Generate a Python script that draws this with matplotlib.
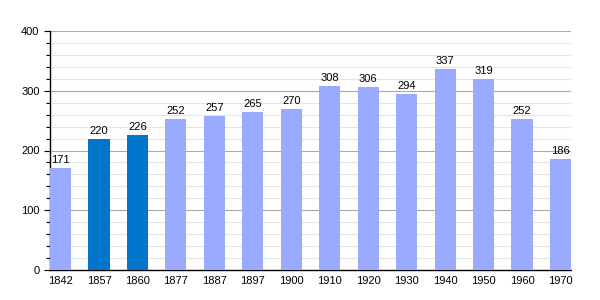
import matplotlib
matplotlib.use("Agg")
import matplotlib.pyplot as plt
import numpy as np

plt.rcParams['font.family'] = ['Liberation Sans', 'DejaVu Sans']

years = ["1842", "1857", "1860", "1877", "1887", "1897", "1900",
         "1910", "1920", "1930", "1940", "1950", "1960", "1970"]
population = [171, 220, 226, 252, 257, 265, 270, 308, 306, 294, 337, 319, 252, 186]
highlight = ["1857", "1860"]

fig = plt.figure(figsize=(6, 3), dpi=100)
ax = fig.add_axes([50/600, 30/300, 521/600, 239/300])

x = np.arange(len(years))
w = 0.55
cols = ["#0077cc" if y in highlight else "#99aaff" for y in years]
ax.bar(x, population, width=w, color=cols, zorder=3)
for xi, v in zip(x, population):
    ax.text(xi, v + 5, str(v), ha="center", va="bottom", fontsize=8, zorder=4)

ax.set_xlim(-w/2, len(years) - 1 + w/2)
ax.set_ylim(0, 400)
ax.set_xticks(x)
ax.set_xticklabels(years, fontsize=8)
ax.set_yticks(range(0, 401, 100))
ax.set_yticks(range(0, 401, 20), minor=True)
ax.tick_params(axis="y", labelsize=8, length=4, width=0.8)
ax.tick_params(axis="y", which="minor", length=3, width=0.8)
ax.tick_params(axis="x", length=0, pad=4)
ax.grid(axis="y", which="major", color="#aaaaaa", lw=0.8, zorder=1)
ax.grid(axis="y", which="minor", color="#e4e4e4", lw=0.8, zorder=0)
for s in ["top", "right"]:
    ax.spines[s].set_visible(False)
ax.spines["left"].set_linewidth(1)
ax.spines["bottom"].set_linewidth(1)

fig.savefig("out.png", dpi=100)
